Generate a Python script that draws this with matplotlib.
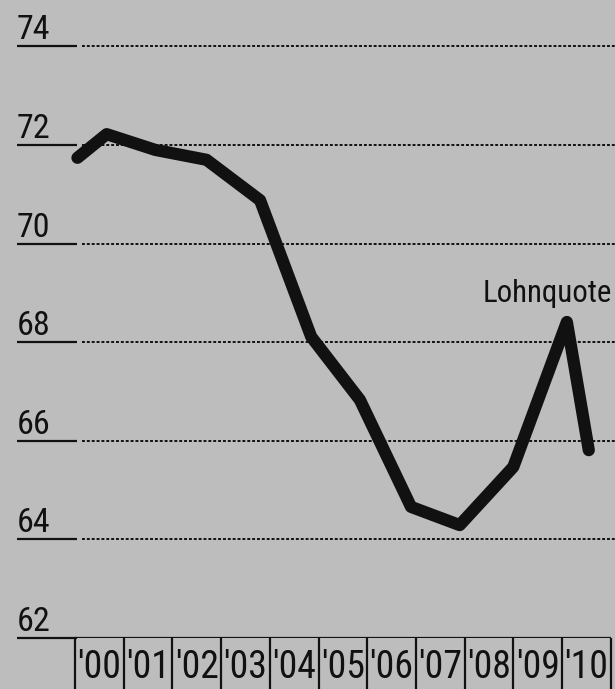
import matplotlib
matplotlib.use("Agg")
import matplotlib.pyplot as plt
from matplotlib import font_manager as fm

# Data (x as fractional year positions)
x_pos = [2000.05, 2000.65, 2001.65, 2002.7, 2003.8, 2004.85, 2005.85, 2006.9, 2007.9, 2009.0, 2010.1, 2010.55]
lohnquote = [71.74, 72.22, 71.90, 71.70, 70.88, 68.11, 66.83, 64.66, 64.29, 65.47, 68.41, 65.81]
years = list(range(2000, 2011))
year_labels = ["'00", "'01", "'02", "'03", "'04", "'05", "'06", "'07", "'08", "'09", "'10"]
y_ticks = [62, 64, 66, 68, 70, 72, 74]
series_label = "Lohnquote"

available = {f.name for f in fm.fontManager.ttflist}
preferred = ['Liberation Sans Narrow', 'Roboto Condensed', 'Archivo Narrow', 'PT Sans Narrow',
             'Arimo Narrow', 'Pragati Narrow', 'IBM Plex Sans Condensed', 'Fira Sans Condensed',
             'Open Sans Condensed', 'Barlow Semi Condensed', 'Liberation Sans']
main_font = next((f for f in preferred if f in available), 'DejaVu Sans')
FONT = [main_font, 'DejaVu Sans']
WEIGHT = 'normal'

BG = '#bdbdbd'
INK = '#111111'

W, H = 615, 689
fig = plt.figure(figsize=(W / 100, H / 100), dpi=100, facecolor=BG)
ax_left, ax_bottom = 75 / W, (H - 638) / H
ax = fig.add_axes([ax_left, ax_bottom, 1 - ax_left, 1 - ax_bottom])
ax.set_facecolor(BG)
for s in ax.spines.values():
    s.set_visible(False)
ax.set_xticks([])
ax.set_yticks([])

px_per_year = 48.7
ax.set_xlim(2000, 2000 + (W - 75) / px_per_year)
ax.set_ylim(62, 62 + 638 / 49.3)

ytr = ax.get_yaxis_transform()
xtr = ax.get_xaxis_transform()
axes_w = W - 75
renderer = fig.canvas.get_renderer()


def fit(t, target_w, target_h):
    """scale font so the text fits target width and height (px)."""
    bb = t.get_window_extent(renderer)
    fs = t.get_fontsize()
    k = min(target_w / bb.width, target_h / bb.height)
    t.set_fontsize(fs * k)


# gridlines + labels
ylabels = []
for v in y_ticks:
    ax.plot([(17 - 75) / axes_w, (77 - 75) / axes_w], [v, v], transform=ytr,
            color=INK, lw=1.6, clip_on=False, solid_capstyle='butt')
    t = ax.text((17 - 75) / axes_w, v + 0.14, str(v), transform=ytr, ha='left',
                va='baseline', fontsize=23, color=INK, family=FONT, fontweight=WEIGHT)
    ylabels.append(t)
    if v == 62:
        ax.plot([2000, 2011], [v, v], color=INK, lw=1.6, solid_capstyle='butt')
    else:
        ax.plot([2000.14, 2012], [v, v], color=INK, lw=1.4,
                linestyle=(0, (1.5, 1.0)))
fit(ylabels[-1], 34, 31)
for t in ylabels:
    t.set_fontsize(ylabels[-1].get_fontsize())

# year dividers and labels
ax.vlines(years + [2011], 0, -0.09, transform=xtr, colors=INK, lw=1.6, clip_on=False)
xlabels = []
for yr, lab in zip(years, year_labels):
    t = ax.text(yr + 0.5, -0.063, lab, transform=xtr, ha='center', va='baseline',
                fontsize=29, color=INK, family=FONT, fontweight=WEIGHT)
    xlabels.append(t)
fit(xlabels[0], 44, 40)
for t in xlabels:
    t.set_fontsize(xlabels[0].get_fontsize())

# line
ax.plot(x_pos, lohnquote, color=INK, lw=8.8, solid_capstyle='round',
        solid_joinstyle='round', zorder=5, clip_on=False)

tl = ax.text(2008.38, 68.82, series_label, ha='left', va='baseline', fontsize=23,
             color=INK, family=FONT, fontweight=WEIGHT, clip_on=False)
fit(tl, 130, 40)

fig.savefig("out.png", dpi=100, facecolor=BG)
